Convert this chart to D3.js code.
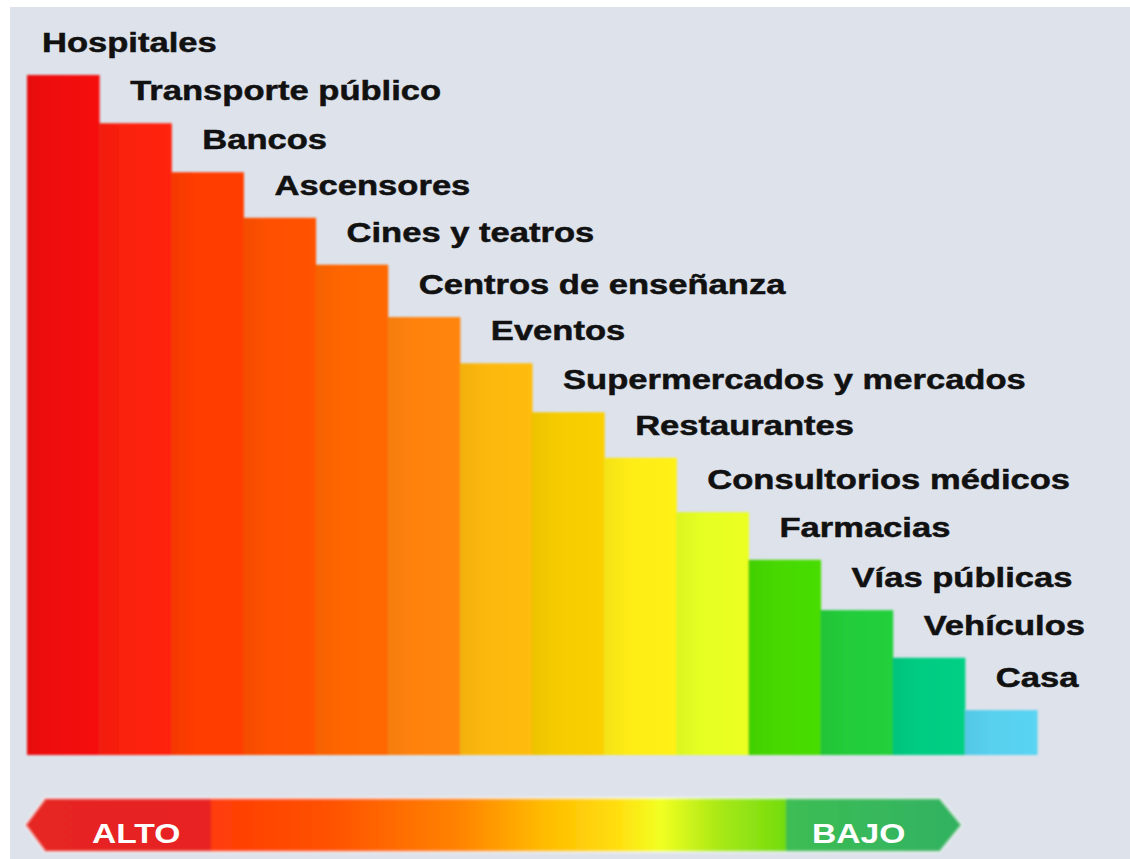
<!DOCTYPE html>
<html>
<head>
<meta charset="utf-8">
<script src="https://cdn.jsdelivr.net/npm/d3@7"></script>
<style>
  html, body { margin: 0; padding: 0; background: #fff; }
  svg { display: block; }
  text { font-family: "Liberation Sans", Arial, sans-serif; font-weight: bold; }
</style>
</head>
<body>
<svg id="chart" width="1130" height="859"></svg>
<script>
'use strict'

// lugares, de mayor a menor riesgo
const categories = [
  'Hospitales', 'Transporte público', 'Bancos', 'Ascensores', 'Cines y teatros',
  'Centros de enseñanza', 'Eventos', 'Supermercados y mercados', 'Restaurantes',
  'Consultorios médicos', 'Farmacias', 'Vías públicas', 'Vehículos', 'Casa'
]
// nivel de riesgo relativo (0-100)
const riskValues = [100, 92.9, 85.7, 79.0, 72.1, 64.4, 57.6, 50.4, 43.7, 35.7, 28.7, 21.3, 14.3, 6.6]
const barColors = [
  '#f00c0c', '#fb2008', '#ff3c02', '#ff5002', '#ff6606', '#ff820a', '#fdb808',
  '#f6cc04', '#ffec18', '#e6ff22', '#46d806', '#22cc3a', '#04cc82', '#58d0ee'
]
const scaleLabels = ['ALTO', 'BAJO']

const svg = d3.select('#chart')
const W = 1130, H = 859

svg.append('rect')
  .attr('x', 10).attr('y', 7)
  .attr('width', W - 10).attr('height', H - 7)
  .attr('fill', '#dde2eb')

const defs = svg.append('defs')
defs.append('filter').attr('id', 'soft')
  .append('feGaussianBlur').attr('stdDeviation', 0.8)

const x = d3.scaleBand().domain(categories).range([27, 1037]).padding(0)
const y = d3.scaleLinear().domain([0, 100]).range([755, 75])

// gradiente suave dentro de cada barra
barColors.forEach((c, i) => {
  const g = defs.append('linearGradient').attr('id', `bar-${i}`)
    .attr('x1', 0).attr('x2', 1).attr('y1', 0).attr('y2', 0)
  g.append('stop').attr('offset', 0).attr('stop-color', d3.color(c).darker(0.12))
  g.append('stop').attr('offset', 0.35).attr('stop-color', c)
  g.append('stop').attr('offset', 1).attr('stop-color', d3.color(c).brighter(0.06))
})

const data = categories.map((name, i) => ({ name, value: riskValues[i], i }))

svg.append('g').attr('class', 'bars')
  .attr('filter', 'url(#soft)')
  .selectAll('rect')
  .data(data)
  .enter().append('rect')
  .attr('x', (d) => x(d.name))
  .attr('y', (d) => y(d.value))
  .attr('width', x.bandwidth() + 0.5)
  .attr('height', (d) => y(0) - y(d.value))
  .attr('fill', (d) => `url(#bar-${d.i})`)

svg.append('g').attr('class', 'labels')
  .selectAll('text')
  .data(data)
  .enter().append('text')
  .attr('transform', (d) => {
    const lx = x(d.name) + (d.i === 0 ? 15 : 31)
    return `translate(${lx}, ${y(d.value) - 23}) scale(1.28, 1)`
  })
  .attr('font-size', 27)
  .attr('fill', '#111')
  .attr('stroke', '#111')
  .attr('stroke-width', 0.5)
  .text((d) => d.name)

// barra de escala ALTO -> BAJO
const lg = defs.append('linearGradient').attr('id', 'scale')
  .attr('gradientUnits', 'userSpaceOnUse')
  .attr('x1', 25).attr('x2', 962).attr('y1', 0).attr('y2', 0)
const stops = [
  [25, '#e52520'], [210, '#e82420'], [212, '#ff3c08'], [330, '#ff5200'],
  [460, '#ff8400'], [545, '#ffbc00'], [620, '#ffe010'], [660, '#f2ff22'],
  [720, '#a8e814'], [785, '#74dc10'], [787, '#3dbd55'], [962, '#32b262']
]
stops.forEach(([px, c]) => {
  lg.append('stop').attr('offset', (px - 25) / (962 - 25)).attr('stop-color', c)
})

const arrowTop = 798, arrowBot = 852, arrowMid = (arrowTop + arrowBot) / 2
const arrow = d3.path()
arrow.moveTo(45, arrowTop)
arrow.lineTo(940, arrowTop)
arrow.lineTo(962, arrowMid)
arrow.lineTo(940, arrowBot)
arrow.lineTo(45, arrowBot)
arrow.lineTo(25, arrowMid)
arrow.closePath()

svg.append('path')
  .attr('d', arrow.toString())
  .attr('fill', 'url(#scale)')
  .attr('stroke', '#fff')
  .attr('stroke-opacity', 0.45)
  .attr('stroke-width', 3)
  .attr('filter', 'url(#soft)')

svg.append('g').selectAll('text')
  .data(scaleLabels)
  .enter().append('text')
  .attr('transform', (d, i) => `translate(${i === 0 ? 92 : 812}, 843) scale(1.2, 1)`)
  .attr('font-size', 28)
  .attr('fill', '#fff')
  .text((d) => d)
</script>
</body>
</html>
